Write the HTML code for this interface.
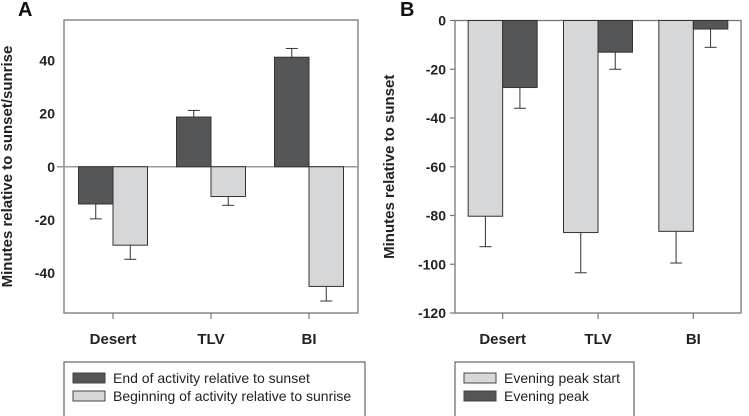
<!DOCTYPE html>
<html><head><meta charset="utf-8"><style>
body{margin:0;background:#fff;}
svg{display:block;font-family:"Liberation Sans",Arial,sans-serif;}
</style></head><body>
<svg id="c" width="749" height="416" viewBox="0 0 749 416"></svg>
<script>
const categories=["Desert","TLV","BI"];
const aEnd=[-14,18.7,41.2];
const aEndErr=[-19.6,21.2,44.5];
const aBegin=[-29.5,-11.2,-45];
const aBeginErr=[-34.8,-14.5,-50.5];
const aTicks=[40,20,0,-20,-40];
const bStart=[-80.3,-87,-86.5];
const bStartErr=[-92.8,-103.5,-99.5];
const bPeak=[-27.5,-13,-3.5];
const bPeakErr=[-36,-20,-11];
const bTicks=[0,-20,-40,-60,-80,-100,-120];

const svg=document.getElementById('c');
const NS='http://www.w3.org/2000/svg';
function mk(tag,attrs,parent){const e=document.createElementNS(NS,tag);for(const k in attrs)e.setAttribute(k,attrs[k]);(parent||svg).appendChild(e);return e;}
const DARK='#555658',LIGHT='#d6d7d9',AX='#777';

function panel(p){
  const g=mk('g',{});
  
  
  const y=v=>p.y0+(p.vmax-v)/(p.vmax-p.vmin)*(p.y1-p.y0);
  const xc=i=>p.x0+(p.x1-p.x0)*(i+0.5)/categories.length;
  const bw=34.5;
  const box=mk('rect',{x:p.x0,y:p.y0,width:p.x1-p.x0,height:p.y1-p.y0,fill:'none',stroke:AX,'stroke-width':1.3},g);
  
  
  p.ticks.forEach(t=>{
    const ty=y(t);
    if(p.tickMarks) mk('line',{x1:p.x0-5,x2:p.x0,y1:ty,y2:ty,stroke:AX,'stroke-width':1.2},g);
    const tx=mk('text',{x:p.x0-9,y:ty+5,'text-anchor':'end','font-size':14,'font-weight':'bold',fill:'#222'},g);
    tx.textContent=t;
    
    
  });
  if(p.zero){mk('line',{x1:p.x0-7,x2:p.x1,y1:y(0),y2:y(0),stroke:'#999','stroke-width':1.5},g);}
  categories.forEach((c,i)=>{
    const cx=xc(i);
    mk('line',{x1:cx,x2:cx,y1:p.y1,y2:p.y1+6,stroke:AX,'stroke-width':1.2},g);
    const t=mk('text',{x:cx,y:p.y1+31,'text-anchor':'middle','font-size':15,'font-weight':'bold',fill:'#222'},g);
    t.textContent=c;
    
    
    p.series.forEach((s,k)=>{
      const v=s.vals[i],e=s.errs[i];
      const bx=cx-bw+k*bw;
      const top=Math.min(y(0),y(v)),h=Math.abs(y(v)-y(0));
      const ex=bx+bw/2;
      mk('line',{x1:ex,x2:ex,y1:y(v),y2:y(e),stroke:'#333','stroke-width':1},g);
      mk('line',{x1:ex-6,x2:ex+6,y1:y(e),y2:y(e),stroke:'#333','stroke-width':1},g);
      const r=mk('rect',{x:bx,y:top,width:bw,height:h,fill:s.color,stroke:'#333','stroke-width':1},g);
      
      
    });
  });
  const lt=mk('text',{x:p.letterX,y:16,'font-size':20,'font-weight':'bold',fill:'#111'},g);
  lt.textContent=p.letter;
  
  
  const yt=mk('text',{x:0,y:0,transform:`translate(${p.titleX},${(p.y0+p.y1)/2}) rotate(-90)`,'text-anchor':'middle','font-size':15,'font-weight':'bold',fill:'#222'},g);
  yt.textContent=p.title;
  
  
  const lg=mk('g',{},g);
  
  
  mk('rect',{x:p.x0,y:362,width:p.legW,height:60,fill:'#fff',stroke:'#444','stroke-width':1},lg);
  p.series.slice().sort((a,b)=>a.legOrder-b.legOrder).forEach((s,k)=>{
    const ly=373+k*18;
    mk('rect',{x:p.x0+9,y:ly,width:32,height:10,fill:s.color,stroke:'#444','stroke-width':1},lg);
    const t=mk('text',{x:p.x0+49,y:ly+10,'font-size':14,fill:'#222'},lg);
    t.textContent=s.label;
    
    
  });
}
panel({name:'panel-a',letter:'A',letterX:18,x0:64,x1:358,y0:20,y1:313,vmax:55.2,vmin:-55,zero:true,tickMarks:false,ticks:aTicks,titleX:12,
  title:'Minutes relative to sunset/sunrise',legW:301,
  series:[{key:'end',vals:aEnd,errs:aEndErr,color:DARK,label:'End of activity relative to sunset',legOrder:0},
          {key:'begin',vals:aBegin,errs:aBeginErr,color:LIGHT,label:'Beginning of activity relative to sunrise',legOrder:1}]});
panel({name:'panel-b',letter:'B',letterX:400,x0:455,x1:741,y0:20.5,y1:313,vmax:0,vmin:-120,zero:false,tickMarks:true,ticks:bTicks,titleX:394,
  title:'Minutes relative to sunset',legW:179,
  series:[{key:'start',vals:bStart,errs:bStartErr,color:LIGHT,label:'Evening peak start',legOrder:0},
          {key:'peak',vals:bPeak,errs:bPeakErr,color:DARK,label:'Evening peak',legOrder:1}]});
</script>
</body></html>
